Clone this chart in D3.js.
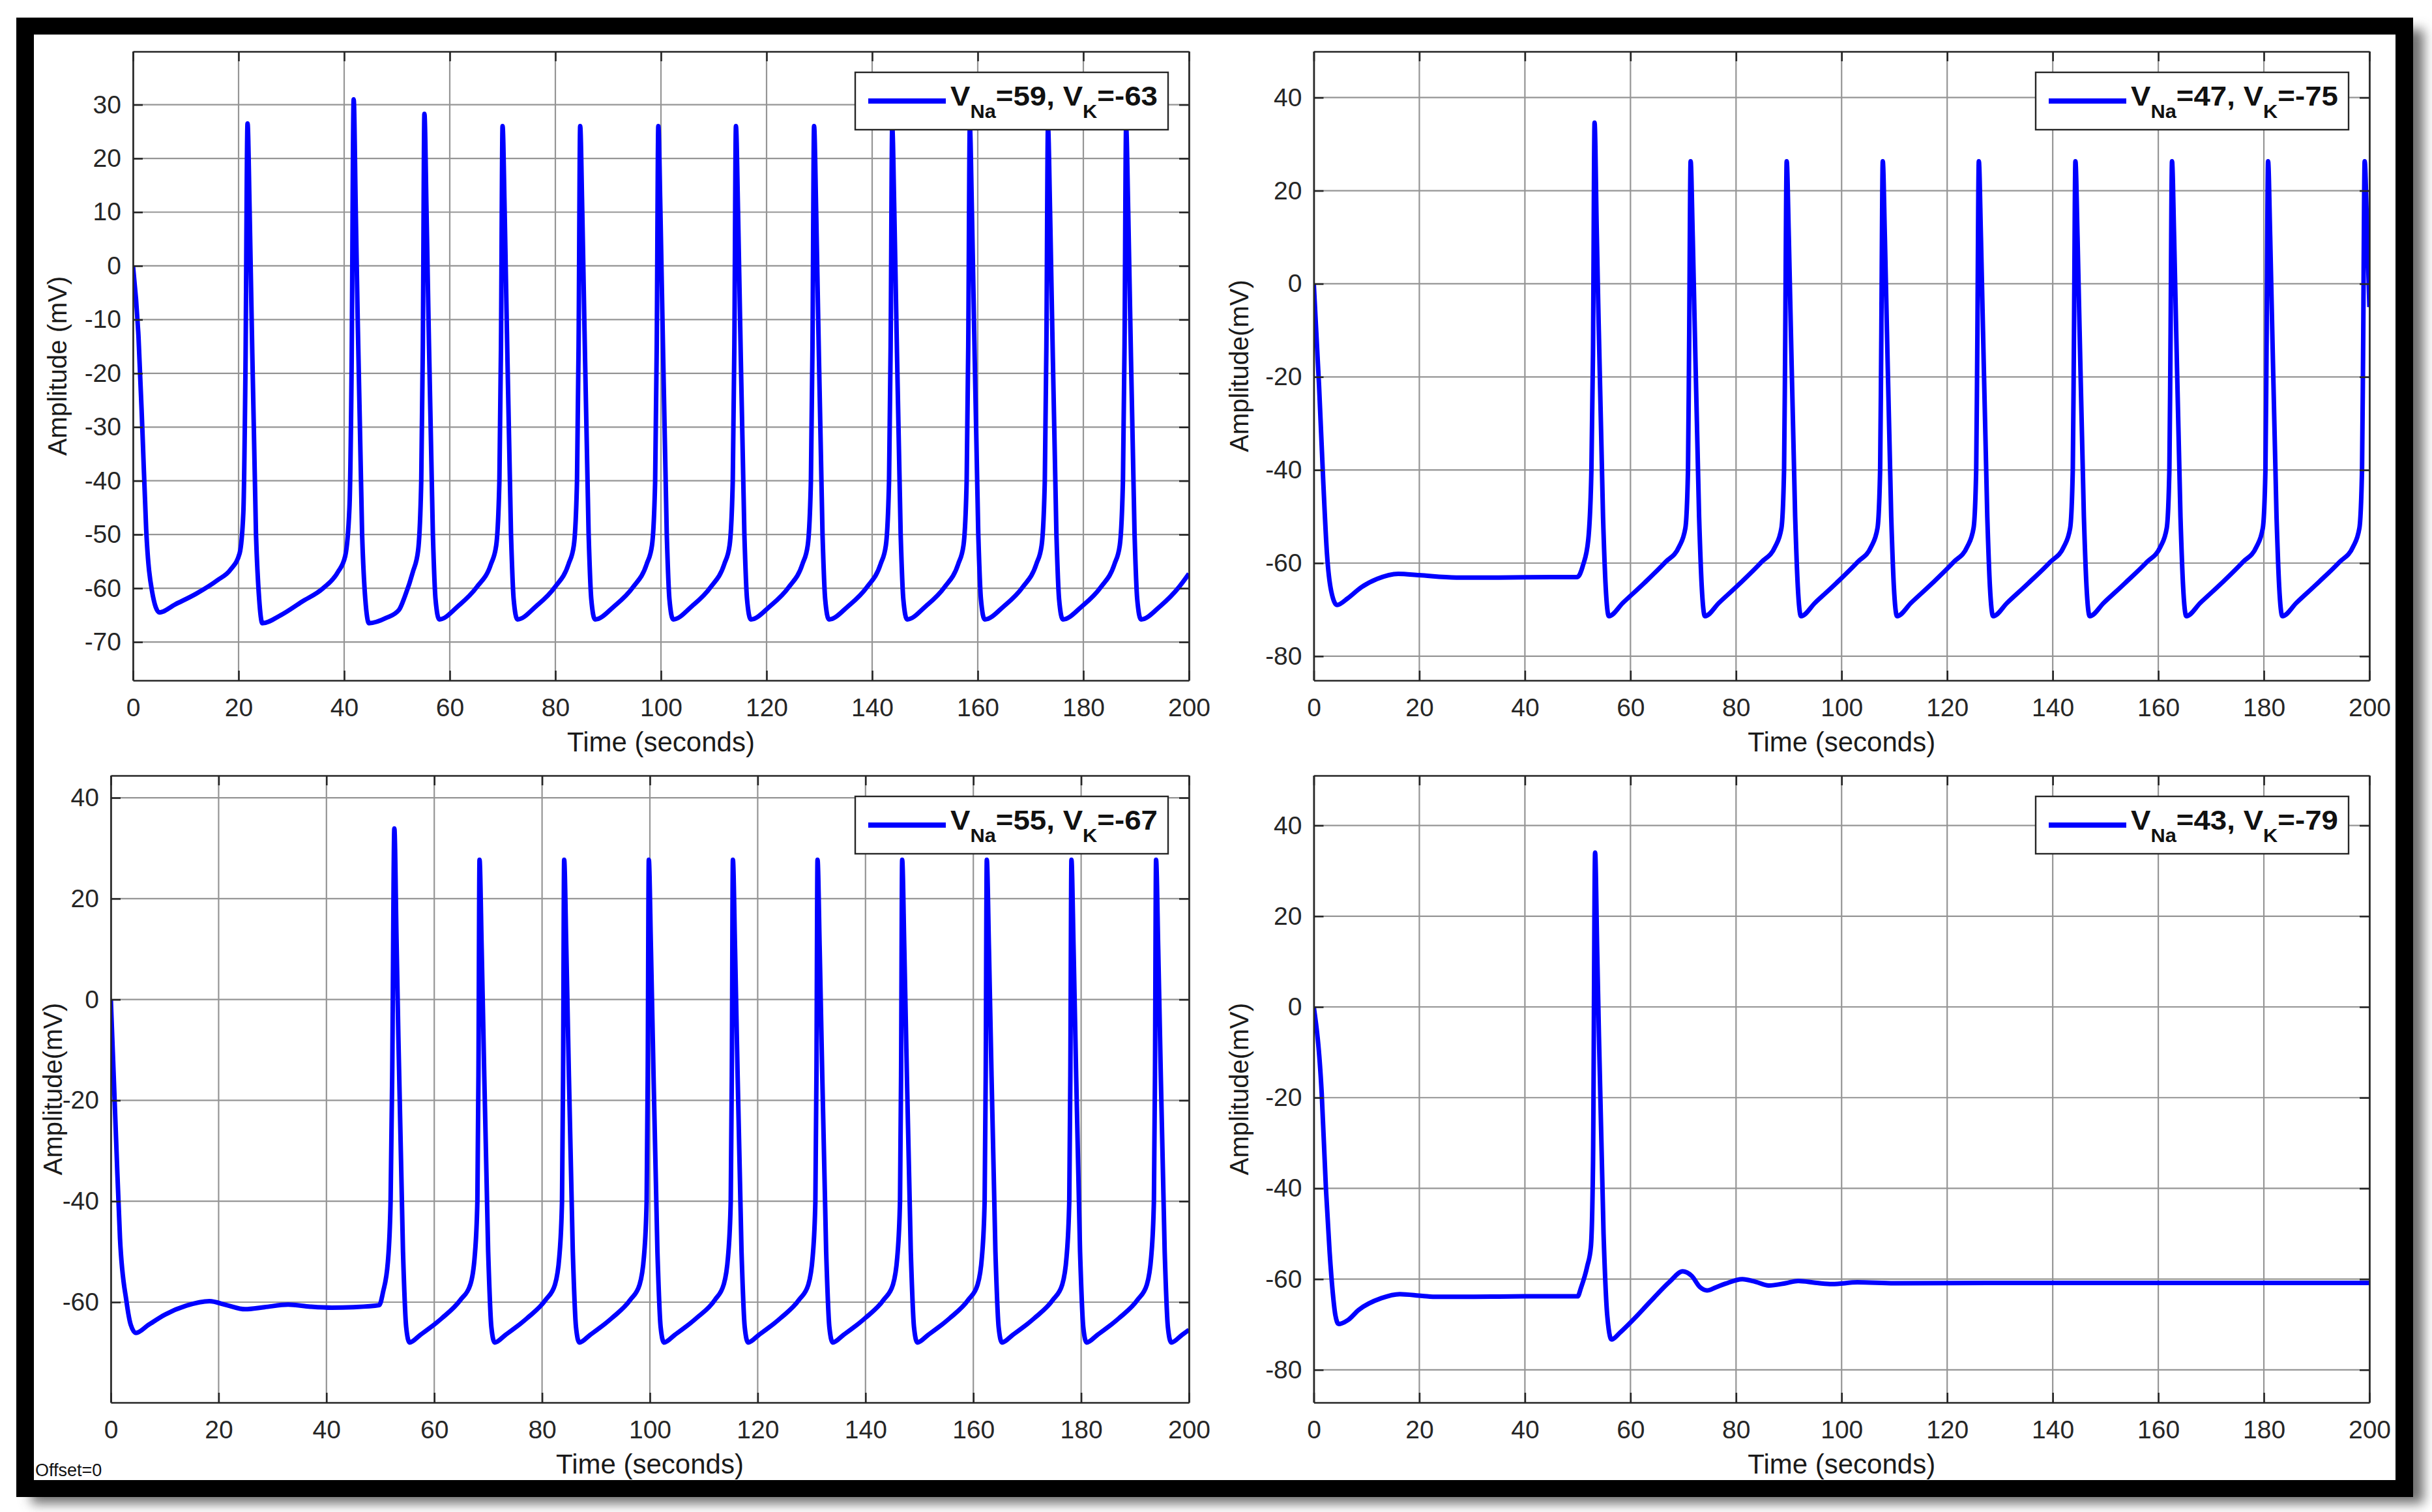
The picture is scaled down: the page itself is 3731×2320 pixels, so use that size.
<!DOCTYPE html>
<html>
<head>
<meta charset="utf-8">
<script src="https://cdn.jsdelivr.net/npm/d3@7"></script>
<style>
  body { margin: 0; background: #fff; }
  svg { display: block; }
</style>
</head>
<body>
<div id="chart"></div>
<script>
// x axis ticks shared by all panels
const timeTicks = [0, 20, 40, 60, 80, 100, 120, 140, 160, 180, 200];
const ticksTopLeft = [-70, -60, -50, -40, -30, -20, -10, 0, 10, 20, 30];
const ticksTopRight = [-80, -60, -40, -20, 0, 20, 40];
const ticksBottomLeft = [-60, -40, -20, 0, 20, 40];
const ticksBottomRight = [-80, -60, -40, -20, 0, 20, 40];

const legendNa = ["59", "47", "55", "43"];
const legendK = ["-63", "-75", "-67", "-79"];

// traces, [time (s), amplitude (mV)]
const traceNa59 = [
  [0, 0], [1.05, -13.3], [1.8, -31], [2.5, -49], [3.6, -60.5], [5.0, -64.5], [8, -63], [12, -61], [16, -58.5],
  [18.5, -56.5], [20.2, -53.5], [20.9, -46], [21.3, -20], [21.7, 26.5], [22.1, 10], [23.3, -50], [23.9, -62], [24.5, -66.5],
  [28, -65], [32, -62.5], [36, -60], [38.8, -57], [40.2, -54], [41.0, -45], [41.4, -20], [41.8, 31], [42.2, 10],
  [43.4, -50], [44.0, -62], [44.7, -66.5], [48, -65.5], [50.4, -64], [51.5, -61.5], [53, -57], [54.0, -53], [54.6, -40],
  [54.9, -15], [55.2, 28.3], [55.6, 10], [56.8, -50], [57.3, -62], [58.0, -65.8],
  [61.6, -63.3], [65.1, -59.8], [67.8, -55.5], [68.8, -52], [69.4, -40], [69.7, -15], [70.0, 26], [70.4, 10], [71.6, -50], [72.1, -62], [72.8, -65.8],
  [76.4, -63.3], [79.9, -59.8], [82.5, -55.5], [83.5, -52], [84.1, -40], [84.4, -15], [84.7, 26], [85.1, 10], [86.3, -50], [86.8, -62], [87.5, -65.8],
  [91.2, -63.3], [94.7, -59.8], [97.3, -55.5], [98.3, -52], [98.9, -40], [99.2, -15], [99.5, 26], [99.9, 10], [101.1, -50], [101.6, -62], [102.3, -65.8],
  [105.9, -63.3], [109.4, -59.8], [112.0, -55.5], [113.0, -52], [113.6, -40], [113.9, -15], [114.2, 26], [114.6, 10], [115.8, -50], [116.3, -62], [117.0, -65.8],
  [120.7, -63.3], [124.2, -59.8], [126.8, -55.5], [127.8, -52], [128.4, -40], [128.7, -15], [129.0, 26], [129.4, 10], [130.6, -50], [131.1, -62], [131.8, -65.8],
  [135.5, -63.3], [139.0, -59.8], [141.6, -55.5], [142.6, -52], [143.2, -40], [143.5, -15], [143.8, 26], [144.2, 10], [145.4, -50], [145.9, -62], [146.6, -65.8],
  [150.2, -63.3], [153.7, -59.8], [156.3, -55.5], [157.3, -52], [157.9, -40], [158.2, -15], [158.5, 26], [158.9, 10], [160.1, -50], [160.6, -62], [161.3, -65.8],
  [165.0, -63.3], [168.5, -59.8], [171.1, -55.5], [172.1, -52], [172.7, -40], [173.0, -15], [173.3, 26], [173.7, 10], [174.9, -50], [175.4, -62], [176.1, -65.8],
  [179.8, -63.3], [183.3, -59.8], [185.9, -55.5], [186.9, -52], [187.5, -40], [187.8, -15], [188.1, 26], [188.5, 10], [189.7, -50], [190.2, -62], [190.9, -65.8],
  [194.6, -63.3], [198.1, -59.8], [200, -57.3]
];

const traceNa47 = [
  [0, 0], [1.0, -21.9], [1.8, -42.6], [2.5, -58], [3.3, -66], [4.4, -69], [6.5, -67.5], [9, -65.2], [12, -63.4],
  [16, -62.3], [20, -62.6], [27, -63.1], [35, -63.1], [45, -63], [49.9, -63],
  [51.0, -60.5], [52.0, -55], [52.6, -40], [52.9, -15], [53.2, 34.6], [53.6, 12], [54.8, -50], [55.3, -65], [55.9, -71.4],
  [58.6, -68.5], [62.6, -64.3], [66.6, -59.8], [69.2, -56.5], [70.4, -52.5], [70.9, -40], [71.1, -15], [71.4, 26.3], [71.8, 10], [73.0, -50], [73.5, -65], [74.1, -71.4],
  [76.8, -68.5], [80.8, -64.3], [84.8, -59.8], [87.4, -56.5], [88.6, -52.5], [89.1, -40], [89.3, -15], [89.6, 26.3], [90.0, 10], [91.2, -50], [91.7, -65], [92.3, -71.4],
  [95.0, -68.5], [99.0, -64.3], [103.0, -59.8], [105.6, -56.5], [106.8, -52.5], [107.3, -40], [107.5, -15], [107.8, 26.3], [108.2, 10], [109.4, -50], [109.9, -65], [110.5, -71.4],
  [113.2, -68.5], [117.2, -64.3], [121.2, -59.8], [123.8, -56.5], [125.0, -52.5], [125.5, -40], [125.7, -15], [126.0, 26.3], [126.4, 10], [127.6, -50], [128.1, -65], [128.7, -71.4],
  [131.4, -68.5], [135.4, -64.3], [139.5, -59.8], [142.1, -56.5], [143.3, -52.5], [143.8, -40], [144.0, -15], [144.3, 26.3], [144.7, 10], [145.9, -50], [146.4, -65], [147.0, -71.4],
  [149.7, -68.5], [153.7, -64.3], [157.8, -59.8], [160.4, -56.5], [161.6, -52.5], [162.1, -40], [162.3, -15], [162.6, 26.3], [163.0, 10], [164.2, -50], [164.7, -65], [165.3, -71.4],
  [168.0, -68.5], [172.0, -64.3], [176.0, -59.8], [178.6, -56.5], [179.8, -52.5], [180.3, -40], [180.5, -15], [180.8, 26.3], [181.2, 10], [182.4, -50], [182.9, -65], [183.5, -71.4],
  [186.2, -68.5], [190.2, -64.3], [194.3, -59.8], [196.9, -56.5], [198.1, -52.5], [198.6, -40], [198.8, -15], [199.1, 26.3], [199.5, 14], [200, -5]
];

const traceNa55 = [
  [0, 0], [1.0, -28.3], [1.7, -47.3], [2.9, -59.8], [3.7, -64.5], [4.65, -66.1], [7, -64.5], [10, -62.5], [14, -60.7],
  [18.3, -59.8], [21.5, -60.6], [24.9, -61.4], [28.5, -61], [32.9, -60.5], [37, -60.9], [41, -61.1], [45, -61], [49.8, -60.6],
  [50.5, -58], [51.4, -52], [51.9, -40], [52.2, -15], [52.6, 33.9], [53.0, 12], [54.2, -50], [54.8, -65], [55.4, -68],
  [57.4, -66.5], [61.4, -63.2], [64.9, -59.5], [66.7, -56.5], [67.5, -51], [68.0, -40], [68.2, -15], [68.4, 27.7], [68.8, 10], [70.0, -50], [70.6, -65], [71.2, -68],
  [73.2, -66.5], [77.2, -63.2], [80.7, -59.5], [82.4, -56.5], [83.2, -51], [83.7, -40], [83.9, -15], [84.1, 27.7], [84.5, 10], [85.7, -50], [86.3, -65], [86.9, -68],
  [88.9, -66.5], [92.9, -63.2], [96.4, -59.5], [98.1, -56.5], [98.9, -51], [99.4, -40], [99.6, -15], [99.8, 27.7], [100.2, 10], [101.4, -50], [102.0, -65], [102.6, -68],
  [104.6, -66.5], [108.6, -63.2], [112.1, -59.5], [113.7, -56.5], [114.5, -51], [115.0, -40], [115.2, -15], [115.4, 27.7], [115.8, 10], [117.0, -50], [117.6, -65], [118.2, -68],
  [120.2, -66.5], [124.2, -63.2], [127.7, -59.5], [129.4, -56.5], [130.2, -51], [130.7, -40], [130.9, -15], [131.1, 27.7], [131.5, 10], [132.7, -50], [133.3, -65], [133.9, -68],
  [135.9, -66.5], [139.9, -63.2], [143.4, -59.5], [145.1, -56.5], [145.9, -51], [146.4, -40], [146.6, -15], [146.8, 27.7], [147.2, 10], [148.4, -50], [149.0, -65], [149.6, -68],
  [151.6, -66.5], [155.6, -63.2], [159.1, -59.5], [160.8, -56.5], [161.6, -51], [162.1, -40], [162.3, -15], [162.5, 27.7], [162.9, 10], [164.1, -50], [164.7, -65], [165.3, -68],
  [167.3, -66.5], [171.3, -63.2], [174.8, -59.5], [176.5, -56.5], [177.3, -51], [177.8, -40], [178.0, -15], [178.2, 27.7], [178.6, 10], [179.8, -50], [180.4, -65], [181.0, -68],
  [183.0, -66.5], [187.0, -63.2], [190.5, -59.5], [192.2, -56.5], [193.0, -51], [193.5, -40], [193.7, -15], [193.9, 27.7], [194.3, 10], [195.5, -50], [196.1, -65], [196.7, -68],
  [198.7, -66.5], [200, -65.5]
];

const traceNa43 = [
  [0, 0], [1.5, -19], [2.3, -40], [3.0, -54], [3.6, -63], [4.1, -68], [4.7, -69.9], [6.5, -69], [8.5, -66.8],
  [12.8, -64.2], [16.3, -63.3], [20.6, -63.7], [23.4, -63.9], [30, -63.9], [40, -63.8], [50, -63.8],
  [50.6, -62], [51.8, -57.2], [52.5, -52.9], [52.9, -35], [53.3, 34], [53.7, 12], [54.9, -50], [55.6, -68], [56.4, -73.3],
  [58, -71.8], [60.3, -69.2], [63.8, -64.9], [67.4, -60.6], [69.9, -58.3], [71.6, -59.3], [73.2, -61.8], [74.5, -62.5],
  [76.2, -61.8], [78, -61], [81.2, -60], [83.7, -60.6], [86.2, -61.4], [89.4, -60.9], [91.8, -60.4], [95, -60.8],
  [98.2, -61.1], [103, -60.7], [110, -60.9], [130, -60.85], [160, -60.85], [200, -60.85]
];

const W = 3731, H = 2320;
const FONT = "'Liberation Sans', Arial, Helvetica, sans-serif";
const INK = "#262626";

const svg = d3.select("#chart").append("svg")
  .attr("width", W)
  .attr("height", H);

// frame with a soft drop shadow
const defs = svg.append("defs");
defs.append("filter")
  .attr("id", "shadow")
  .attr("x", "-5%").attr("y", "-5%")
  .attr("width", "110%").attr("height", "110%")
  .append("feGaussianBlur")
  .attr("stdDeviation", 9);

svg.append("rect")
  .attr("x", 48).attr("y", 45)
  .attr("width", 3670).attr("height", 2262)
  .attr("fill", "#6e6e6e")
  .attr("filter", "url(#shadow)");
svg.append("rect")
  .attr("x", 25).attr("y", 27)
  .attr("width", 3677).attr("height", 2270)
  .attr("fill", "#000");
svg.append("rect")
  .attr("x", 52).attr("y", 53)
  .attr("width", 3623).attr("height", 2218)
  .attr("fill", "#fff");

const panels = [
  {left: 204, top: 79, right: 1824, bottom: 1044, yDomain: [-77.15, 39.9], yTicks: ticksTopLeft,
   trace: traceNa59, yLabel: "Amplitude (mV)", yLabelGap: 116},
  {left: 2015.5, top: 79, right: 3635, bottom: 1044, yDomain: [-85.2, 49.9], yTicks: ticksTopRight,
   trace: traceNa47, yLabel: "Amplitude(mV)", yLabelGap: 115},
  {left: 170, top: 1190, right: 1824, bottom: 2152, yDomain: [-79.9, 44.4], yTicks: ticksBottomLeft,
   trace: traceNa55, yLabel: "Amplitude(mV)", yLabelGap: 89},
  {left: 2015.5, top: 1190, right: 3635, bottom: 2152, yDomain: [-87.2, 51], yTicks: ticksBottomRight,
   trace: traceNa43, yLabel: "Amplitude(mV)", yLabelGap: 115}
];

// plain hyphen for negatives, like the original figure
const tickText = d => String(d);

function styleAxis(g, showText) {
  g.attr("color", INK)
    .attr("font-family", FONT)
    .attr("font-size", 39);
  g.selectAll(".domain").attr("stroke-width", 2.6);
  g.selectAll(".tick line").attr("stroke-width", 2.6);
  g.selectAll(".tick text").attr("fill", INK);
  if (!showText) g.selectAll(".tick text").remove();
}

panels.forEach((p, i) => {
  const w = p.right - p.left;
  const h = p.bottom - p.top;

  const x = d3.scaleLinear().domain([0, 200]).range([0, w]);
  const y = d3.scaleLinear().domain(p.yDomain).range([h, 0]);

  const g = svg.append("g")
    .attr("transform", `translate(${p.left}, ${p.top})`);

  // grid
  g.append("g").selectAll("line.vg")
    .data(timeTicks)
    .enter().append("line")
    .attr("x1", d => x(d)).attr("x2", d => x(d))
    .attr("y1", 0).attr("y2", h)
    .attr("stroke", "#959595")
    .attr("stroke-width", 2.2);
  g.append("g").selectAll("line.hg")
    .data(p.yTicks)
    .enter().append("line")
    .attr("x1", 0).attr("x2", w)
    .attr("y1", d => y(d)).attr("y2", d => y(d))
    .attr("stroke", "#959595")
    .attr("stroke-width", 2.2);

  // trace
  const clipId = "clip" + i;
  defs.append("clipPath").attr("id", clipId)
    .append("rect").attr("width", w).attr("height", h);

  const line = d3.line()
    .x(d => x(d[0]))
    .y(d => y(d[1]))
    .curve(d3.curveMonotoneX);

  g.append("path")
    .datum(p.trace)
    .attr("clip-path", `url(#${clipId})`)
    .attr("fill", "none")
    .attr("stroke", "#0000ff")
    .attr("stroke-width", 7)
    .attr("stroke-linejoin", "round")
    .attr("d", line);

  // axes, ticks pointing inward on every side
  const bottomAxis = g.append("g")
    .attr("transform", `translate(0, ${h})`)
    .call(d3.axisBottom(x).tickValues(timeTicks).tickFormat(tickText)
      .tickSizeInner(-15).tickSizeOuter(0).tickPadding(27));
  styleAxis(bottomAxis, true);

  const topAxis = g.append("g")
    .call(d3.axisTop(x).tickValues(timeTicks).tickSizeInner(-15).tickSizeOuter(0));
  styleAxis(topAxis, false);

  const leftAxis = g.append("g")
    .call(d3.axisLeft(y).tickValues(p.yTicks).tickFormat(tickText)
      .tickSizeInner(-15).tickSizeOuter(0).tickPadding(18));
  styleAxis(leftAxis, true);

  const rightAxis = g.append("g")
    .attr("transform", `translate(${w}, 0)`)
    .call(d3.axisRight(y).tickValues(p.yTicks).tickSizeInner(-15).tickSizeOuter(0));
  styleAxis(rightAxis, false);

  // axis labels
  g.append("text")
    .attr("x", w / 2)
    .attr("y", h + 109)
    .attr("text-anchor", "middle")
    .attr("font-family", FONT)
    .attr("font-size", 42)
    .attr("fill", "#1a1a1a")
    .text("Time (seconds)");

  g.append("text")
    .attr("transform", `translate(${-p.yLabelGap}, ${h / 2}) rotate(-90)`)
    .attr("dy", "0.35em")
    .attr("text-anchor", "middle")
    .attr("font-family", FONT)
    .attr("font-size", 40)
    .attr("fill", "#1a1a1a")
    .text(p.yLabel);

  // legend
  const lw = 480, lh = 88;
  const lx = w - 32 - lw, ly = 32;
  const legend = g.append("g").attr("transform", `translate(${lx}, ${ly})`);
  legend.append("rect")
    .attr("width", lw).attr("height", lh)
    .attr("fill", "#fff")
    .attr("stroke", INK)
    .attr("stroke-width", 2.4);
  legend.append("line")
    .attr("x1", 20).attr("x2", 139)
    .attr("y1", 44).attr("y2", 44)
    .attr("stroke", "#0000ff")
    .attr("stroke-width", 8);
  const lt = legend.append("text")
    .attr("x", 146)
    .attr("y", 51)
    .attr("font-family", FONT)
    .attr("font-weight", "bold")
    .attr("font-size", 43)
    .attr("fill", "#111")
    .attr("textLength", 318)
    .attr("lengthAdjust", "spacingAndGlyphs");
  lt.append("tspan").text("V");
  lt.append("tspan").attr("font-size", 29).attr("dy", 19).text("Na");
  lt.append("tspan").attr("dy", -19).text("=" + legendNa[i] + ", V");
  lt.append("tspan").attr("font-size", 29).attr("dy", 19).text("K");
  lt.append("tspan").attr("dy", -19).text("=" + legendK[i]);
});

svg.append("text")
  .attr("x", 54)
  .attr("y", 2265)
  .attr("font-family", FONT)
  .attr("font-size", 27)
  .attr("fill", "#111")
  .text("Offset=0");
</script>
</body>
</html>
